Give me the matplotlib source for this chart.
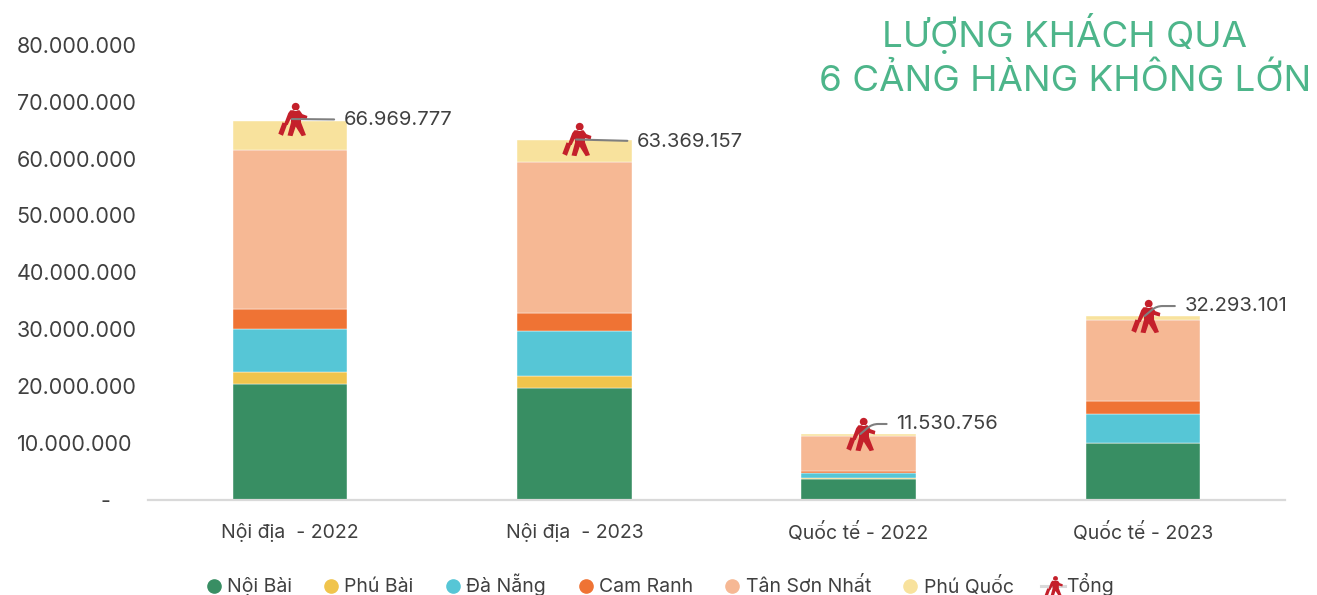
# -*- coding: utf-8 -*-
import matplotlib
matplotlib.use("Agg")
import matplotlib.pyplot as plt
from matplotlib.lines import Line2D
from matplotlib.path import Path
import numpy as np

plt.rcParams['font.family'] = ['Inter', 'DejaVu Sans']

categories = ["Nội địa  - 2022", "Nội địa  - 2023", "Quốc tế - 2022", "Quốc tế - 2023"]
noi_bai = [20300000, 19600000, 3660000, 9900000]
phu_bai = [2100000, 2100000, 60000, 60000]
da_nang = [7600000, 8000000, 980000, 5040000]
cam_ranh = [3500000, 3100000, 300000, 2300000]
tan_son_nhat = [28000000, 26600000, 6180000, 14300000]
phu_quoc = [5100000, 3900000, 320000, 700000]
tong = [66969777, 63369157, 11530756, 32293101]
tong_labels = ["66.969.777", "63.369.157", "11.530.756", "32.293.101"]
y_ticks = [0, 10000000, 20000000, 30000000, 40000000, 50000000, 60000000, 70000000, 80000000]
y_labels = ["              -", "10.000.000", "20.000.000", "30.000.000", "40.000.000",
            "50.000.000", "60.000.000", "70.000.000", "80.000.000"]

series = [("Nội Bài", noi_bai, '#388E63'), ("Phú Bài", phu_bai, '#F0C44C'),
          ("Đà Nẵng", da_nang, '#56C6D6'), ("Cam Ranh", cam_ranh, '#EF7334'),
          ("Tân Sơn Nhất", tan_son_nhat, '#F6B894'), ("Phú Quốc", phu_quoc, '#F8E29D')]

text_col = '#404040'


# walking person with a suitcase
def person_marker():
    head = Path.circle((9, 36), 11)
    body = Path([(-6, 26), (20, 26), (28, 15), (42, 10), (40, 0), (24, 4), (24, -8), (38, -44), (26, -47),
                 (9, -20), (0, -47), (-14, -45), (-4, -8), (-5, 2), (-14, -16), (-23, -11), (-12, 18), (-6, 26)])
    case = Path([(-28, -8), (-15, -14), (-27, -46), (-40, -40), (-28, -8)])
    return Path.make_compound_path(head, body, case)


person = person_marker()

fig = plt.figure(figsize=(13.17, 5.95), dpi=100)
ax = fig.add_axes([148 / 1317, (595 - 499.5) / 595, 1137 / 1317, 454.5 / 595])

x = np.arange(len(categories))
bottom = np.zeros(len(categories))
for name, vals, col in series:
    ax.bar(x, vals, 0.402, bottom=bottom, color=col, edgecolor='white', linewidth=0.3, label=name)
    bottom += np.array(vals)

ax.plot(x + 0.006, tong, ls='none', marker=person, ms=24, color='#C4202B', mec='none', zorder=4)

# leader lines + labels, offsets are in pixels
offsets = [(52, -1), (61, -3), (36, 10), (40, 10)]
for i in range(len(tong)):
    dx, dy = offsets[i]
    ax.annotate(tong_labels[i], (x[i] + 0.006, tong[i]), xytext=(dx * 0.72, dy * 0.72),
                textcoords='offset points', fontsize=14.5, color=text_col, va='center', ha='left',
                arrowprops=dict(arrowstyle='-', color='#7F7F7F', lw=1.5, shrinkA=5, shrinkB=0,
                                connectionstyle="angle,angleA=0,angleB=40,rad=6" if dy > 5 else "arc3"),
                zorder=5)

ax.set_xlim(-0.5, 3.5)
ax.set_ylim(0, 80000000)
ax.set_xticks(x, categories)
ax.set_yticks(y_ticks, y_labels)
ax.tick_params(axis='both', length=0, labelcolor=text_col)
ax.tick_params(axis='x', pad=17, labelsize=14)
ax.tick_params(axis='y', pad=94.5, labelsize=15.5)
for lab in ax.get_yticklabels():
    lab.set_ha('left')
for s in ['top', 'left', 'right']:
    ax.spines[s].set_visible(False)
ax.spines['bottom'].set_color('#D9D9D9')
ax.spines['bottom'].set_linewidth(1.6)

fig.text(1065 / 1317, 1 - 47 / 595, "LƯỢNG KHÁCH QUA", fontsize=26.5, color='#4DB58A',
         ha='center', va='baseline')
fig.text(1065 / 1317, 1 - 91 / 595, "6 CẢNG HÀNG KHÔNG LỚN", fontsize=26.5, color='#4DB58A',
         ha='center', va='baseline')

handles = [Line2D([], [], ls='none', marker='o', ms=9.5, color=col, label=name) for name, vals, col in series]
handles.append(Line2D([], [], color='#D9D9D9', lw=2.2, marker=person, ms=15, mfc='#C4202B', mec='none', label="Tổng"))
fig.legend(handles=handles, loc='center', bbox_to_anchor=(658 / 1317, 1 - 585 / 595), ncols=7, frameon=False,
           fontsize=14, labelcolor=text_col, columnspacing=1.43, handlelength=1.2, handletextpad=0.08,
           borderpad=0, borderaxespad=0)

fig.savefig("out.png", dpi=100)
